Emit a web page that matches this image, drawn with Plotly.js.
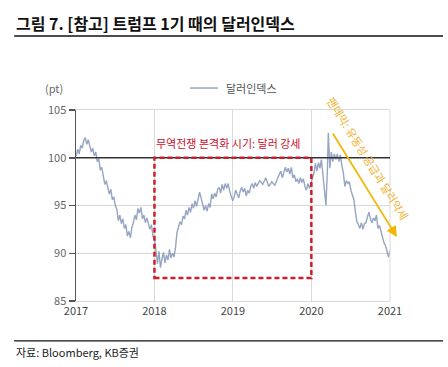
<!DOCTYPE html>
<html>
<head>
<meta charset="utf-8">
<script src="https://cdn.plot.ly/plotly-3.0.1.min.js"></script>
<style>html,body{margin:0;padding:0;background:#fff;}#chart{width:448px;height:367px;}</style>
</head>
<body>
<div id="chart"></div>
<script>
const dates = [
"2017-01-02","2017-01-09","2017-01-16","2017-01-23","2017-01-30","2017-02-06","2017-02-13","2017-02-20","2017-02-27","2017-03-06","2017-03-13","2017-03-20","2017-03-27","2017-04-03","2017-04-10","2017-04-17","2017-04-24","2017-05-01","2017-05-08","2017-05-15","2017-05-22","2017-05-29","2017-06-05","2017-06-12","2017-06-19","2017-06-26","2017-07-03","2017-07-10","2017-07-17","2017-07-24","2017-07-31","2017-08-07","2017-08-14","2017-08-21","2017-08-28","2017-09-04","2017-09-11","2017-09-18","2017-09-25","2017-10-02","2017-10-09","2017-10-16","2017-10-23","2017-10-30","2017-11-06","2017-11-13","2017-11-20","2017-11-27","2017-12-04","2017-12-11","2017-12-18","2017-12-25",
"2018-01-01","2018-01-08","2018-01-15","2018-01-22","2018-01-29","2018-02-05","2018-02-12","2018-02-19","2018-02-26","2018-03-05","2018-03-12","2018-03-19","2018-03-26","2018-04-02","2018-04-09","2018-04-16","2018-04-23","2018-04-30","2018-05-07","2018-05-14","2018-05-21","2018-05-28","2018-06-04","2018-06-11","2018-06-18","2018-06-25","2018-07-02","2018-07-09","2018-07-16","2018-07-23","2018-07-30","2018-08-06","2018-08-13","2018-08-20","2018-08-27","2018-09-03","2018-09-10","2018-09-17","2018-09-24","2018-10-01","2018-10-08","2018-10-15","2018-10-22","2018-10-29","2018-11-05","2018-11-12","2018-11-19","2018-11-26","2018-12-03","2018-12-10","2018-12-17","2018-12-24","2018-12-31",
"2019-01-07","2019-01-14","2019-01-21","2019-01-28","2019-02-04","2019-02-11","2019-02-18","2019-02-25","2019-03-04","2019-03-11","2019-03-18","2019-03-25","2019-04-01","2019-04-08","2019-04-15","2019-04-22","2019-05-06","2019-05-20","2019-06-03","2019-06-17","2019-07-01","2019-07-15","2019-07-29","2019-08-05","2019-08-12","2019-08-19","2019-08-26","2019-09-02","2019-09-09","2019-09-16","2019-09-23","2019-09-30","2019-10-07","2019-10-14","2019-10-21","2019-10-28","2019-11-04","2019-11-11","2019-11-18","2019-11-25","2019-12-02","2019-12-09","2019-12-16","2019-12-23","2019-12-30",
"2020-01-06","2020-01-13","2020-01-20","2020-01-27","2020-02-03","2020-02-10","2020-02-17","2020-02-24","2020-03-02","2020-03-09","2020-03-16","2020-03-20","2020-03-27","2020-04-03","2020-04-10","2020-04-17","2020-04-24","2020-05-01","2020-05-08","2020-05-15","2020-05-22","2020-05-29","2020-06-05","2020-06-12","2020-06-19","2020-06-26","2020-07-03","2020-07-10","2020-07-17","2020-07-24","2020-07-31","2020-08-07","2020-08-14","2020-08-21","2020-08-28","2020-09-04","2020-09-11","2020-09-18","2020-09-25","2020-10-02","2020-10-09","2020-10-16","2020-10-23","2020-10-30","2020-11-06","2020-11-13","2020-11-20","2020-11-27","2020-12-04","2020-12-11","2020-12-18","2020-12-25","2021-01-01"
];
const dxy = [
100.2,100.9,100.4,101.3,101.0,101.8,102.1,101.4,101.9,101.2,100.6,101.0,100.2,100.6,99.6,99.9,98.7,99.0,97.8,97.2,97.6,96.8,96.2,96.7,95.6,95.9,95.0,94.6,93.4,94.0,93.1,93.6,92.6,93.0,91.8,92.3,91.6,92.7,93.2,94.0,93.5,94.7,94.2,94.8,93.6,94.0,93.2,93.7,93.0,92.5,93.0,91.8,
91.5,90.0,88.9,90.2,88.5,89.4,90.1,89.0,89.8,89.3,90.4,89.5,90.0,89.6,90.6,92.2,92.7,93.3,93.0,93.9,93.6,94.5,94.0,94.8,94.3,95.2,94.7,95.5,94.9,95.6,96.4,95.8,95.1,94.5,95.0,94.4,95.2,94.8,96.2,95.7,96.3,95.9,96.7,96.9,96.3,97.2,96.6,97.3,96.8,97.3,96.5,96.0,95.5,
95.9,96.6,96.2,95.8,96.5,96.9,96.4,96.8,96.0,96.6,96.3,97.0,97.3,96.8,97.4,97.0,97.6,97.2,97.9,97.0,97.5,97.1,97.9,98.3,98.6,97.9,98.4,99.0,98.5,98.9,98.3,99.0,97.9,98.2,97.5,97.8,97.3,97.9,97.4,97.8,97.0,96.6,97.3,96.8,97.3,
97.8,98.4,99.4,98.6,99.5,98.9,99.8,98.4,96.6,95.0,99.0,102.6,98.9,100.6,99.6,100.4,99.8,100.4,99.6,100.3,99.2,98.4,97.0,97.6,97.3,97.5,96.6,96.0,95.6,94.3,93.3,93.0,92.6,93.2,92.5,93.1,93.2,93.8,94.3,93.6,93.2,93.7,93.4,94.0,92.6,92.9,92.3,91.7,91.1,90.8,90.0,89.6,90.3
];
const yTicks = [85, 90, 95, 100, 105];
const xTickVals = ["2017-01-01","2018-01-01","2019-01-01","2020-01-01","2021-01-01"];
const xTickText = ["2017","2018","2019","2020","2021"];

const F = "'Noto Sans CJK KR', 'Noto Sans', sans-serif";
const trace = {
  x: dates, y: dxy, type: 'scatter', mode: 'lines',
  line: {color: '#95a5c2', width: 1.4}, name: '달러인덱스', showlegend: false,
  cliponaxis: false
};
const layout = {
  width: 448, height: 367,
  margin: {l: 76, r: 58, t: 110, b: 66},
  paper_bgcolor: '#fff', plot_bgcolor: '#fff',
  font: {family: F, color: '#444', size: 11},
  showlegend: false,
  xaxis: {
    type: 'date', range: ['2017-01-01', '2021-01-01'],
    tickvals: xTickVals, ticktext: xTickText,
    showgrid: true, gridcolor: '#d9d9d9', gridwidth: 1,
    showline: true, mirror: true, linecolor: '#d9d9d9', linewidth: 1,
    ticks: '', zeroline: false,
    tickfont: {family: F, size: 11, color: '#444'}, fixedrange: true
  },
  yaxis: {
    range: [85, 105], tickvals: yTicks, ticktext: yTicks.map(String),
    showgrid: true, gridcolor: '#d9d9d9', gridwidth: 1,
    showline: true, linecolor: '#555', linewidth: 1.5,
    ticks: 'outside', ticklen: 6, tickcolor: '#555', tickwidth: 1.5,
    zeroline: false,
    tickfont: {family: F, size: 11, color: '#666'}, fixedrange: true
  },
  shapes: [
    {type: 'line', xref: 'paper', yref: 'paper', x0: 1, x1: 1, y0: 0, y1: 1, line: {color: '#d9d9d9', width: 1}},
    {type: 'line', xref: 'paper', yref: 'y', x0: 0, x1: 1, y0: 100, y1: 100, line: {color: '#333', width: 1.3}},
    {type: 'rect', xref: 'x', yref: 'y', x0: '2018-01-01', x1: '2020-01-01', y0: 87.4, y1: 100,
      line: {color: '#cc1f2a', width: 2.5, dash: '5px,3px'}},
    {type: 'line', xref: 'paper', yref: 'paper', x0: -0.197, x1: 1.169, y0: 1.387, y1: 1.387, line: {color: '#111', width: 1.5}},
    {type: 'line', xref: 'paper', yref: 'paper', x0: -0.197, x1: 1.169, y0: -0.209, y1: -0.209, line: {color: '#111', width: 1.2}},
    {type: 'line', xref: 'paper', yref: 'paper', x0: 0.363, x1: 0.452, y0: 1.115, y1: 1.115, line: {color: '#95a5c2', width: 1.5}}
  ],
  annotations: [
    {xref: 'paper', yref: 'paper', x: -0.197, y: 1.455, xanchor: 'left', yanchor: 'middle', showarrow: false,
      text: '<b>그림 7. [참고] 트럼프 1기 때의 달러인덱스</b>', font: {family: F, size: 16, color: '#111'}},
    {xref: 'paper', yref: 'paper', x: -0.197, y: -0.265, xanchor: 'left', yanchor: 'middle', showarrow: false,
      text: '자료: Bloomberg, KB증권', font: {family: F, size: 11, color: '#222'}},
    {xref: 'paper', yref: 'paper', x: -0.105, y: 1.115, xanchor: 'left', yanchor: 'middle', showarrow: false,
      text: '(pt)', font: {family: F, size: 11, color: '#666'}},
    {xref: 'paper', yref: 'paper', x: 0.47, y: 1.115, xanchor: 'left', yanchor: 'middle', showarrow: false,
      text: '달러인덱스', font: {family: F, size: 11, color: '#555'}},
    {xref: 'x', yref: 'y', x: '2017-12-28', y: 101.5, xanchor: 'left', yanchor: 'middle', showarrow: false,
      text: '무역전쟁 본격화 시기: 달러 강세', font: {family: F, size: 11, color: '#c8102e'}},
    {xref: 'paper', yref: 'paper', x: 1.022, y: 0.335, text: '', showarrow: true,
      axref: 'pixel', ayref: 'pixel', ax: -65, ay: -105,
      arrowhead: 2, arrowsize: 1.2, arrowwidth: 1.8, arrowcolor: '#f2b705', standoff: 0},
    {xref: 'x', yref: 'y', x: '2020-09-20', y: 99.95, xanchor: 'center', yanchor: 'middle', showarrow: false,
      textangle: 58, text: '팬데믹: 유동성 공급과 달러약세', font: {family: F, size: 11, color: '#f0b030'}}
  ]
};
Plotly.newPlot('chart', [trace], layout, {staticPlot: true, displayModeBar: false});
</script>
</body>
</html>
